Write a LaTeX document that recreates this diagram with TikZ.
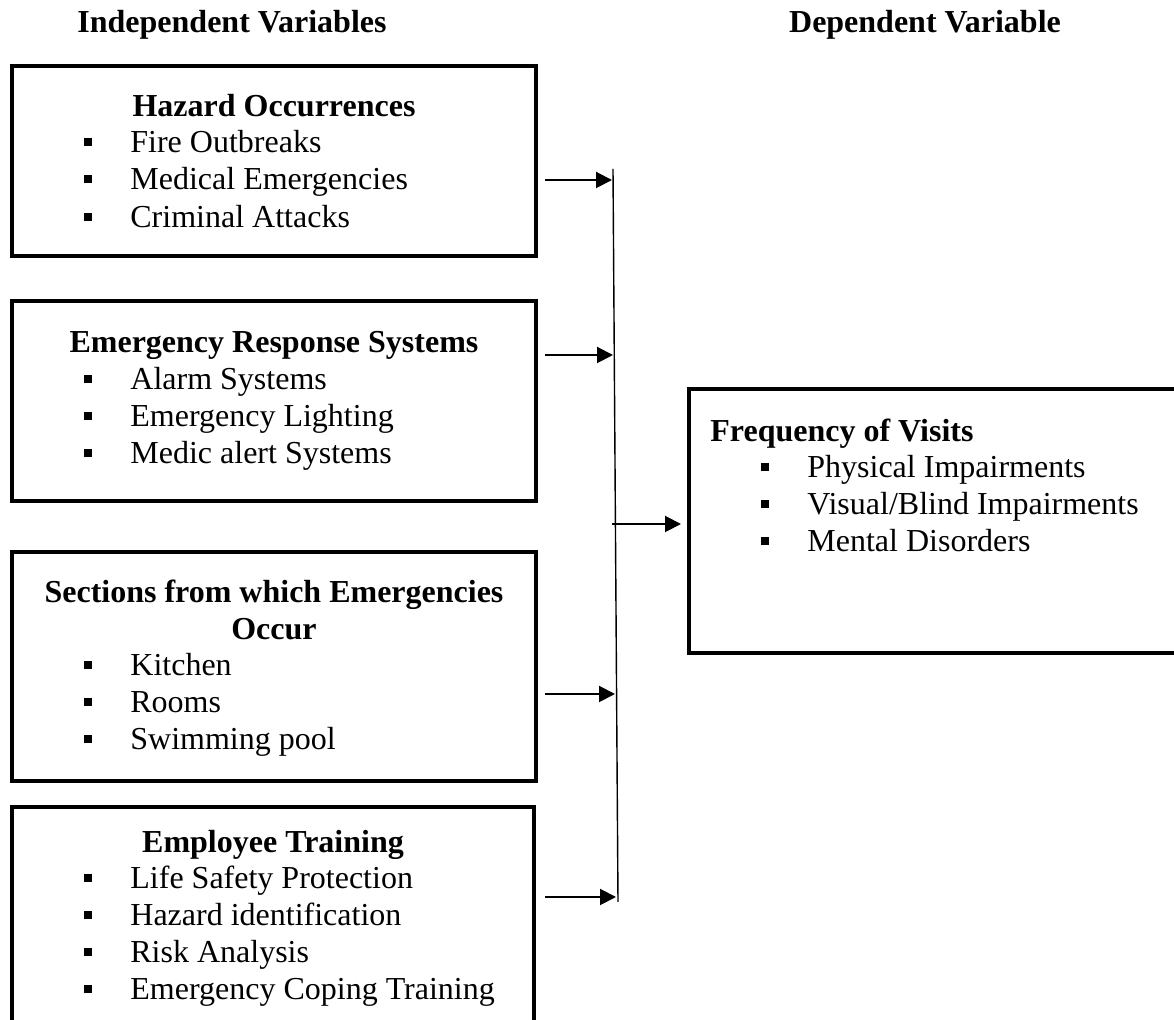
\documentclass[tikz,border=0pt]{standalone}
\usepackage{fontspec}
\setmainfont{Liberation Serif}
\usetikzlibrary{arrows.meta}
\newcommand\sqbul{\llap{\rule[3.3pt]{4pt}{4pt}\hspace{19pt}}}
\begin{document}
\begin{tikzpicture}[x=0.5pt,y=-0.5pt,
  box/.style={draw, line width=2pt, rectangle, inner sep=0pt},
  ttl/.style={anchor=base, font=\bfseries\fontsize{16pt}{18.4pt}\selectfont, inner sep=0pt},
  itm/.style={anchor=base west, font=\fontsize{16pt}{18.4pt}\selectfont, inner sep=0pt},
  arr/.style={line width=1pt, -{Triangle[length=8pt,width=8pt]}},
  vline/.style={line width=0.7pt}]
\useasboundingbox (0,0) rectangle (1174,1020);
\clip (0,0) rectangle (1174,1020);

% headers
\node[ttl] (hind) at (232,33) {Independent Variables};
\node[ttl] (hdep) at (925,33) {Dependent Variable};

% boxes
\node[box, minimum width=262pt, minimum height=95pt] (b1) at (274,161.5) {};
\node[box, minimum width=262pt, minimum height=100pt] (b2) at (274,401.5) {};
\node[box, minimum width=262pt, minimum height=114.5pt] (b3) at (274,666.5) {};
\node[box, minimum width=261pt, minimum height=116.25pt] (b4) at (273,923.75) {};
\node[box, minimum width=255.5pt, minimum height=132.25pt] (dv) at (944.5,521.25) {};

% box 1
\node[ttl] (t1) at (274,117) {Hazard Occurrences};
\node[itm] (i11) at (130,153) {\sqbul Fire Outbreaks};
\node[itm] (i12) at (130,190) {\sqbul Medical Emergencies};
\node[itm] (i13) at (130,228) {\sqbul Criminal Attacks};

% box 2
\node[ttl] (t2) at (274,353) {Emergency Response Systems};
\node[itm] (i21) at (130,390) {\sqbul Alarm Systems};
\node[itm] (i22) at (130,427) {\sqbul Emergency Lighting};
\node[itm] (i23) at (130,464) {\sqbul Medic alert Systems};

% box 3
\node[ttl] (t3a) at (274,603) {Sections from which Emergencies};
\node[ttl] (t3b) at (274,640) {Occur};
\node[itm] (i31) at (130,676) {\sqbul Kitchen};
\node[itm] (i32) at (130,713) {\sqbul Rooms};
\node[itm] (i33) at (130,750) {\sqbul Swimming pool};

% box 4
\node[ttl] (t4) at (273,853) {Employee Training};
\node[itm] (i41) at (130,889) {\sqbul Life Safety Protection};
\node[itm] (i42) at (130,926) {\sqbul Hazard identification};
\node[itm] (i43) at (130,963) {\sqbul Risk Analysis};
\node[itm] (i44) at (130,1000) {\sqbul Emergency Coping Training};

% dependent box
\node[itm, font=\bfseries\fontsize{16pt}{18.4pt}\selectfont] (td) at (710,442) {Frequency of Visits};
\node[itm] (d1) at (807,478) {\sqbul Physical Impairments};
\node[itm] (d2) at (807,515) {\sqbul Visual/Blind Impairments};
\node[itm] (d3) at (807,552) {\sqbul Mental Disorders};

% connectors
\coordinate (vt) at (613,169);
\coordinate (vb) at (618,902);
\draw[vline] (vt) -- (vb);

\coordinate (s1) at (545,180);  \coordinate (e1) at (612,180);
\coordinate (s2) at (545,355);  \coordinate (e2) at (613,355);
\coordinate (s3) at (545,694);  \coordinate (e3) at (615,694);
\coordinate (s4) at (545,897);  \coordinate (e4) at (616,897);
\draw[arr] (s1) -- (e1);
\draw[arr] (s2) -- (e2);
\draw[arr] (s3) -- (e3);
\draw[arr] (s4) -- (e4);

\coordinate (m0) at (612,524);
\coordinate (m1) at (681,524);
\draw[arr] (m0) -- (m1);
\end{tikzpicture}
\end{document}
